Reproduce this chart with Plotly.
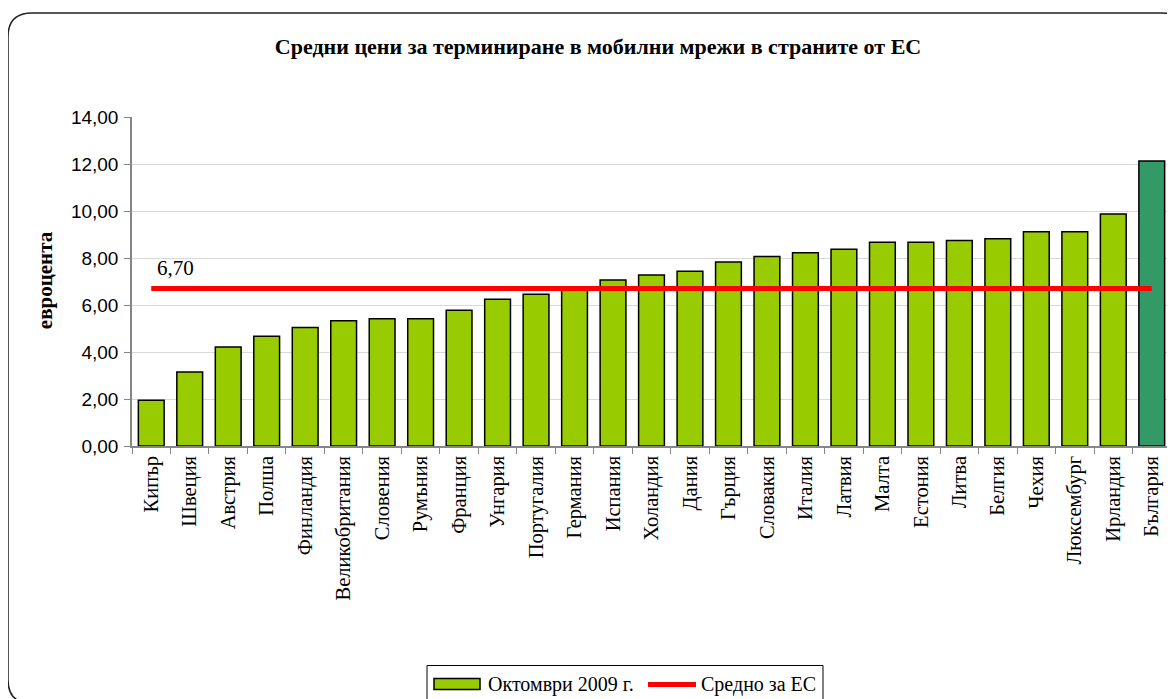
import plotly.graph_objects as go

countries = ["Кипър", "Швеция", "Австрия", "Полша", "Финландия", "Великобритания",
             "Словения", "Румъния", "Франция", "Унгария", "Португалия", "Германия",
             "Испания", "Холандия", "Дания", "Гърция", "Словакия", "Италия", "Латвия",
             "Малта", "Естония", "Литва", "Белгия", "Чехия", "Люксембург", "Ирландия",
             "България"]
rates_oct_2009 = [1.95, 3.15, 4.21, 4.67, 5.04, 5.33, 5.41, 5.41, 5.78, 6.25, 6.46, 6.72,
                  7.06, 7.28, 7.44, 7.83, 8.06, 8.22, 8.37, 8.67, 8.67, 8.75, 8.82, 9.12,
                  9.12, 9.87, 12.13]
eu_average = [6.70, 6.70, 6.70, 6.70, 6.70, 6.70, 6.70, 6.70, 6.70, 6.70, 6.70, 6.70,
              6.70, 6.70, 6.70, 6.70, 6.70, 6.70, 6.70, 6.70, 6.70, 6.70, 6.70, 6.70,
              6.70, 6.70, 6.70]
y_ticks = [0, 2, 4, 6, 8, 10, 12, 14]
bar_name = "Октомври 2009 г."
line_name = "Средно за ЕС"

bar_colors = ["#99CC00"] * (len(countries) - 1) + ["#339966"]

SERIF = "Liberation Serif, Times New Roman, serif"
SANS = "Liberation Sans, Arial, sans-serif"

OFF = 8  # page body margin
W, H = 1167, 691
ML, MT = 124, 109
MR = W - (1171 - OFF)
MB = H - (445.7 - OFF)
PW = W - ML - MR
PH = H - MT - MB


def px(x_page):
    return (x_page - OFF - ML) / PW


def py(y_page):
    return (H - MB - (y_page - OFF)) / PH


fig = go.Figure()
fig.add_trace(go.Bar(
    x=countries, y=rates_oct_2009, name=bar_name,
    marker=dict(color=bar_colors, line=dict(color="#000000", width=1.5)),
))
fig.add_trace(go.Scatter(
    x=countries, y=eu_average, name=line_name, mode="lines",
    line=dict(color="#FF0000", width=5),
))

fig.add_annotation(
    x=countries[0], y=eu_average[0], text="6,70", showarrow=False,
    xanchor="center", yanchor="middle", xshift=24, yshift=21,
    font=dict(family=SERIF, size=21, color="#000000"),
)
fig.add_annotation(
    xref="paper", yref="paper", x=px(45), y=py(280), text="<b>евроцента</b>",
    textangle=-90, showarrow=False, xanchor="center", yanchor="middle",
    font=dict(family=SERIF, size=21, color="#000000"),
)

# outer rounded frame
l, t, r, b, rad = 8, 13, 1185, 703, 24
path = (f"M {px(l)},{py(t + rad)} Q {px(l)},{py(t)} {px(l + rad)},{py(t)} "
        f"L {px(r - rad)},{py(t)} Q {px(r)},{py(t)} {px(r)},{py(t + rad)} "
        f"L {px(r)},{py(b - rad)} Q {px(r)},{py(b)} {px(r - rad)},{py(b)} "
        f"L {px(l + rad)},{py(b)} Q {px(l)},{py(b)} {px(l)},{py(b - rad)} Z")
fig.add_shape(type="path", xref="paper", yref="paper", path=path,
              line=dict(color="#222222", width=1.5), layer="below")
# right border of plot area
fig.add_shape(type="line", xref="paper", yref="paper", x0=1, x1=1, y0=0, y1=1,
              line=dict(color="#BFBFBF", width=1))

# legend drawn manually (wide Excel-style keys)
fig.add_shape(type="rect", xref="paper", yref="paper",
              x0=px(427), x1=px(823), y0=py(665), y1=py(706),
              line=dict(color="#000000", width=1), fillcolor="white")
fig.add_shape(type="rect", xref="paper", yref="paper",
              x0=px(434), x1=px(480), y0=py(678), y1=py(689),
              line=dict(color="#000000", width=1.5), fillcolor=bar_colors[0])
fig.add_shape(type="line", xref="paper", yref="paper",
              x0=px(648), x1=px(696), y0=py(684), y1=py(684),
              line=dict(color="#FF0000", width=5))
fig.add_annotation(xref="paper", yref="paper", x=px(486), y=py(684), text=bar_name,
                   showarrow=False, xanchor="left", yanchor="middle",
                   font=dict(family=SERIF, size=20, color="#000000"))
fig.add_annotation(xref="paper", yref="paper", x=px(699), y=py(684), text=line_name,
                   showarrow=False, xanchor="left", yanchor="middle",
                   font=dict(family=SERIF, size=20, color="#000000"))

fig.update_layout(
    width=W, height=H,
    margin=dict(l=ML, r=MR, t=MT, b=MB),
    paper_bgcolor="white", plot_bgcolor="white",
    separators=", ",
    title=dict(text="<b>Средни цени за терминиране в мобилни мрежи в страните от ЕС</b>",
               x=(598 - OFF) / W, xref="container", xanchor="center",
               y=1 - (46 - OFF) / H, yanchor="middle",
               font=dict(family=SERIF, size=22, color="#000000")),
    bargap=0.33,
    showlegend=False,
)
fig.update_xaxes(
    type="category", showgrid=False, showline=True, linecolor="#868686", linewidth=1.5,
    ticks="outside", ticklen=6, tickcolor="#868686", tickson="boundaries",
    tickangle=-90, tickfont=dict(family=SERIF, size=20.5, color="#000000"),
)
fig.update_yaxes(
    range=[0, 14], tickvals=y_ticks, tickformat=".2f",
    showgrid=True, gridcolor="#D9D9D9", gridwidth=1,
    showline=True, linecolor="#868686", linewidth=1.5,
    ticks="outside", ticklen=6, tickcolor="#868686", ticklabelstandoff=2,
    tickfont=dict(family=SANS, size=19, color="#000000"), zeroline=False,
)

fig.write_html("out.html")
